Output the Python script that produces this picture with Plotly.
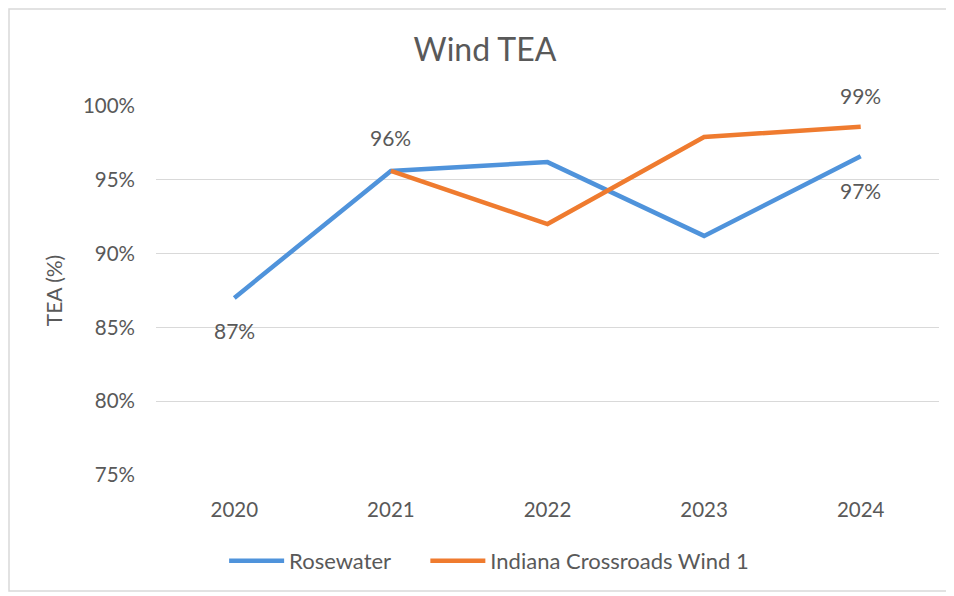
import plotly.graph_objects as go

years = ["2020", "2021", "2022", "2023", "2024"]
rosewater = [87.0, 95.6, 96.2, 91.2, 96.6]
indiana_years = ["2021", "2022", "2023", "2024"]
indiana = [95.6, 92.0, 97.9, 98.6]
y_ticks = [75, 80, 85, 90, 95, 100]
y_tick_labels = ["75%", "80%", "85%", "90%", "95%", "100%"]

# data labels: year -> vertical shift in px
ros_labels = {"2020": -33, "2021": 33, "2024": -34}
ind_labels = {"2024": 31}

BLUE = "#4F93DB"
ORANGE = "#EF7B2F"
TXT = "#595959"
FONT = "Lato"

fig = go.Figure()
fig.add_trace(go.Scatter(x=years, y=rosewater, mode="lines", name="Rosewater",
                         line=dict(color=BLUE, width=4.5), legend="legend",
                         showlegend=True))
fig.add_trace(go.Scatter(x=indiana_years, y=indiana, mode="lines",
                         name="Indiana Crossroads Wind 1",
                         line=dict(color=ORANGE, width=4.5), legend="legend2",
                         showlegend=True))

# category axis: annotation x given as category index
for yr, sh in ros_labels.items():
    i = years.index(yr)
    v = rosewater[i]
    fig.add_annotation(x=i, y=v, xref="x", yref="y", text=f"{v:.0f}%",
                       showarrow=False, yshift=sh,
                       font=dict(family=FONT, size=21, color=TXT))
for yr, sh in ind_labels.items():
    v = indiana[indiana_years.index(yr)]
    fig.add_annotation(x=years.index(yr), y=v, xref="x", yref="y", text=f"{v:.0f}%",
                       showarrow=False, yshift=sh,
                       font=dict(family=FONT, size=21, color=TXT))

legend_common = dict(orientation="h", xanchor="left", y=-0.233, yanchor="middle",
                     font=dict(size=22, color=TXT), itemwidth=55,
                     bgcolor="rgba(0,0,0,0)", visible=True)

fig.update_layout(
    width=954, height=596,
    showlegend=True,
    margin=dict(l=148, r=23, t=98, b=129),
    paper_bgcolor="white", plot_bgcolor="white",
    font=dict(family=FONT, color=TXT, size=20),
    title=dict(text="Wind TEA", x=0.5, xref="container", xanchor="center",
               y=0.93, yref="container", yanchor="middle",
               font=dict(family=FONT, size=32, color=TXT)),
    xaxis=dict(type="category", categoryorder="array", categoryarray=years,
               range=[-0.5, 4.5], showgrid=False, showline=False, ticks="",
               tickfont=dict(size=20.5, color=TXT), ticklabelstandoff=20),
    yaxis=dict(range=[75, 100], tickvals=y_ticks, ticktext=y_tick_labels,
               showgrid=True, gridcolor="#D9D9D9", gridwidth=1.2,
               zeroline=False, showline=False, ticks="",
               tickfont=dict(size=20.5, color=TXT), ticklabelstandoff=20,
               title=dict(text="TEA (%)", font=dict(size=21, color=TXT), standoff=14)),
    legend=dict(x=0.087, **legend_common),
    legend2=dict(x=0.344, **legend_common),
    shapes=[dict(type="rect", xref="paper", yref="paper",
                 x0=-147/783, x1=1.05, y0=-116/369, y1=1 + 97/369,
                 line=dict(color="#D9D9D9", width=1.5), fillcolor="rgba(0,0,0,0)")],
)

fig.write_html("out.html")
